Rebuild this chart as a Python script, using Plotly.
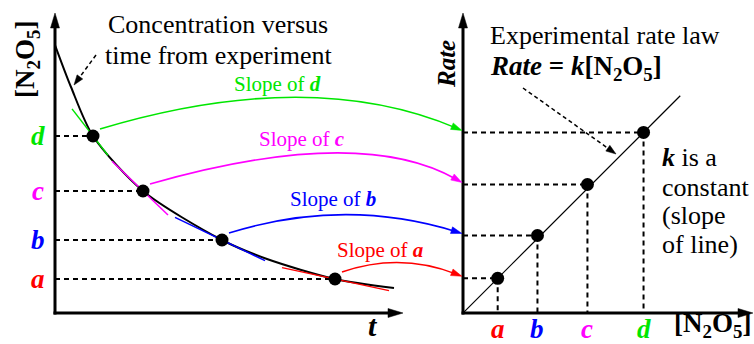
import plotly.graph_objects as go

# ---------------- data (arbitrary units) ----------------
labels = ["a", "b", "c", "d"]
colors = ["#ff0000", "#0000ff", "#ff00ff", "#00e600"]

# concentration-versus-time curve (read points, drawn as a smooth spline)
curve_t = [0, 16, 38, 88, 167, 212, 280, 339]
curve_conc = [268, 226, 177, 122, 73, 54, 34, 25]

# the four marked instants on the curve (a, b, c, d)
point_t = [280, 167, 88, 38]
point_conc = [34, 73, 122, 177]
tangent_slope = [-0.215, -0.48, -0.96, -1.29]

# rate measured at each concentration (right panel)
rate = [34, 76, 126, 177]
k_line_conc = [0, 213]
k_line_rate = [0, 213]

# ---------------- geometry helpers ----------------
W, H = 754, 344
LX0, LX1, AXY, TOPY = 55, 403, 313, 13
RX0, RX1 = 463, 753
RS = 1.02  # right-panel pixel per unit

def Lpx(t, c):
    return LX0 + t, AXY - c

def Rpx(x, r):
    return RX0 + x * RS, AXY - r * RS

FONT = "Liberation Serif, Times New Roman, serif"
tan_span = [(-53, 54), (-47, 43), (-31, 25), (-21, 15)]

fig = go.Figure()
shapes = []

def head(x1, y1, dx, dy, color, L=10, w=3.5):
    n = (dx * dx + dy * dy) ** 0.5
    ux, uy = dx / n, dy / n
    bx, by = x1 - L * ux, y1 - L * uy
    px, py = -uy, ux
    shapes.append(dict(type="path", xref="x3", yref="y3",
                       path=f"M {x1},{y1} L {bx + w * px},{by + w * py} L {bx - w * px},{by - w * py} Z",
                       fillcolor=color, line=dict(color=color, width=0.5)))

# concentration curve
fig.add_trace(go.Scatter(x=curve_t, y=curve_conc, mode="lines",
                         line=dict(color="black", width=2, shape="spline", smoothing=0.8),
                         xaxis="x", yaxis="y", hoverinfo="skip"))
# tangents
for i in range(4):
    lo, hi = tan_span[i]
    xs = [point_t[i] + lo, point_t[i] + hi]
    ys = [point_conc[i] + tangent_slope[i] * lo, point_conc[i] + tangent_slope[i] * hi]
    fig.add_trace(go.Scatter(x=xs, y=ys, mode="lines", line=dict(color=colors[i], width=1.5),
                             xaxis="x", yaxis="y", hoverinfo="skip"))
# dashed guides left
for i in range(4):
    shapes.append(dict(type="line", xref="x", yref="y", x0=0, y0=point_conc[i],
                       x1=point_t[i], y1=point_conc[i],
                       line=dict(color="black", width=2, dash="5px,4px")))
# points left
fig.add_trace(go.Scatter(x=point_t, y=point_conc, mode="markers",
                         marker=dict(color="black", size=13),
                         xaxis="x", yaxis="y", hoverinfo="skip"))

# right panel line
fig.add_trace(go.Scatter(x=k_line_conc, y=k_line_rate, mode="lines",
                         line=dict(color="black", width=1.2),
                         xaxis="x2", yaxis="y2", hoverinfo="skip"))
for i in range(4):
    shapes.append(dict(type="line", xref="x2", yref="y2", x0=0, y0=rate[i],
                       x1=point_conc[i], y1=rate[i],
                       line=dict(color="black", width=2, dash="5px,4px")))
    shapes.append(dict(type="line", xref="x2", yref="y2", x0=point_conc[i], y0=rate[i],
                       x1=point_conc[i], y1=0,
                       line=dict(color="black", width=2, dash="5px,4px")))
fig.add_trace(go.Scatter(x=point_conc, y=rate, mode="markers",
                         marker=dict(color="black", size=13),
                         xaxis="x2", yaxis="y2", hoverinfo="skip"))

# axes with arrow heads
for (x0, y0, x1, y1) in [(LX0, AXY + 1.5, LX0, TOPY), (LX0 - 1.5, AXY, LX1, AXY),
                         (RX0, AXY + 1.5, RX0, TOPY), (RX0 - 1.5, AXY, RX1, AXY)]:
    dx, dy = x1 - x0, y1 - y0
    n = (dx * dx + dy * dy) ** 0.5
    shapes.append(dict(type="line", xref="x3", yref="y3", x0=x0, y0=y0,
                       x1=x1 - dx / n * 10, y1=y1 - dy / n * 10,
                       line=dict(color="black", width=3)))
    head(x1, y1, dx, dy, "black", L=15, w=4.5)

# curved arrows from each tangent to the rate axis
ctrl = [(400, 252), (345, 197), (360, 124), (310, 66)]
for i in range(4):
    px, py = Lpx(point_t[i], point_conc[i])
    x0, y0 = px + 7, py - 7
    ex, ey = Rpx(0, rate[i])
    x1, y1 = ex - 1, ey - 2
    cx, cy = ctrl[i]
    dx, dy = x1 - cx, y1 - cy
    n = (dx * dx + dy * dy) ** 0.5
    shapes.append(dict(type="path", xref="x3", yref="y3",
                       path=f"M {x0},{y0} Q {cx},{cy} {x1 - dx / n * 6},{y1 - dy / n * 6}",
                       line=dict(color=colors[i], width=1.6)))
    head(x1, y1, dx, dy, colors[i], L=11, w=3.5)

# dashed pointer arrows
def dashed_arrow(x0, y0, x1, y1):
    dx, dy = x1 - x0, y1 - y0
    n = (dx * dx + dy * dy) ** 0.5
    shapes.append(dict(type="line", xref="x3", yref="y3", x0=x0, y0=y0,
                       x1=x1 - dx / n * 6, y1=y1 - dy / n * 6,
                       line=dict(color="black", width=1.5, dash="4px,3px")))
    head(x1, y1, dx, dy, "black", L=10, w=3.5)

dashed_arrow(96, 55, 74, 85)
dashed_arrow(523, 88, 616, 154)

annotations = []

def txt(x, y, s, size=26, color="black", xanchor="center", angle=0, yanchor="middle"):
    annotations.append(dict(xref="x3", yref="y3", x=x, y=y, text=s, showarrow=False,
                            xanchor=xanchor, yanchor=yanchor, textangle=angle,
                            font=dict(family=FONT, size=size, color=color)))

txt(218, 24, "Concentration versus")
txt(218, 55, "time from experiment")
slope_pos = [(380, 250), (333, 199), (302, 139), (277, 84)]
for i in range(4):
    txt(slope_pos[i][0], slope_pos[i][1], f"Slope of <b><i>{labels[i]}</i></b>", size=21, color=colors[i])
    txt(38, Lpx(0, point_conc[i])[1], f"<b><i>{labels[i]}</i></b>", size=27, color=colors[i])
    txt(Rpx(point_conc[i], 0)[0], 329, f"<b><i>{labels[i]}</i></b>", size=27, color=colors[i])

txt(27, 60, "<b>[N<sub>2</sub>O<sub>5</sub>]</b>", size=27, angle=-90)
txt(373, 344, "<b><i>t</i></b>", size=30, yanchor="bottom")
txt(446, 64, "<b><i>Rate</i></b>", size=25, angle=-90)
txt(488, 35, "Experimental rate law", xanchor="left")
txt(488, 68, "<b><i>Rate</i> = <i>k</i>[N<sub>2</sub>O<sub>5</sub>]</b>", size=27, xanchor="left")
txt(660, 157, "<b><i>k</i></b> is a", xanchor="left")
txt(660, 187, "constant", xanchor="left")
txt(660, 215, "(slope", xanchor="left")
txt(660, 244, "of line)", xanchor="left")
txt(753, 344, "<b>[N<sub>2</sub>O<sub>5</sub>]</b>", size=27, xanchor="right", yanchor="bottom")

hidden = dict(visible=False, showgrid=False, zeroline=False, fixedrange=True)
fig.update_layout(
    width=W, height=H, margin=dict(l=0, r=0, t=0, b=0),
    paper_bgcolor="white", plot_bgcolor="rgba(0,0,0,0)", showlegend=False,
    xaxis=dict(hidden, domain=[LX0 / W, LX1 / W], range=[0, LX1 - LX0], anchor="y"),
    yaxis=dict(hidden, domain=[(H - AXY) / H, (H - TOPY) / H], range=[0, AXY - TOPY], anchor="x"),
    xaxis2=dict(hidden, domain=[RX0 / W, RX1 / W], range=[0, (RX1 - RX0) / RS], anchor="y2"),
    yaxis2=dict(hidden, domain=[(H - AXY) / H, (H - TOPY) / H], range=[0, (AXY - TOPY) / RS], anchor="x2"),
    xaxis3=dict(hidden, domain=[0, 1], range=[0, W], anchor="y3"),
    yaxis3=dict(hidden, domain=[0, 1], range=[H, 0], anchor="x3"),
    shapes=shapes, annotations=annotations,
)
fig.write_html("out.html", config={"displayModeBar": False, "staticPlot": True},
               post_script="document.body.style.margin='0';document.body.style.overflow='hidden';")
